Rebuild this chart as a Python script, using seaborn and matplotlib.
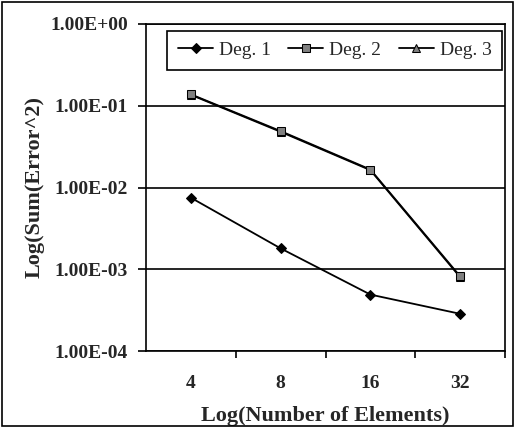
import matplotlib
matplotlib.use("Agg")
import matplotlib.pyplot as plt
import seaborn as sns
import pandas as pd
import numpy as np
from matplotlib.patches import Rectangle
from matplotlib.ticker import FixedLocator

categories = ["4", "8", "16", "32"]
deg1 = [7.5e-3, 1.8e-3, 4.9e-4, 2.85e-4]
deg2 = [0.138, 0.049, 0.0166, 8.2e-4]
deg3 = [0.136, 0.048, 0.0163, 8.0e-4]
series_names = ["Deg. 1", "Deg. 2", "Deg. 3"]
ytick_vals = [1e-4, 1e-3, 1e-2, 1e-1, 1e0]
ytick_labels = ["1.00E-04", "1.00E-03", "1.00E-02", "1.00E-01", "1.00E+00"]

sns.set_theme(style="white")
plt.rcParams["font.family"] = ["Liberation Serif", "DejaVu Serif"]

fig = plt.figure(figsize=(5.15, 4.28), dpi=100)
ax = fig.add_axes([146/515, 1-351/428, (505-146)/515, (351-24)/428])

df = pd.DataFrame({
    "n": categories * 3,
    "err": deg1 + deg2 + deg3,
    "series": [series_names[0]]*4 + [series_names[1]]*4 + [series_names[2]]*4,
})

styles = {
    "Deg. 1": dict(marker="D", markersize=5, markerfacecolor="black", markeredgecolor="black"),
    "Deg. 2": dict(marker="s", markersize=6, markerfacecolor="#808080", markeredgecolor="black"),
    "Deg. 3": dict(marker="^", markersize=6, markerfacecolor="#808080", markeredgecolor="black"),
}
for name in ["Deg. 3", "Deg. 1", "Deg. 2"]:
    sub = df[df["series"] == name]
    sns.lineplot(data=sub, x="n", y="err", ax=ax, color="black", linewidth=1.3,
                 sort=False, label=name, **styles[name])

ax.set_yscale("log")
ax.set_ylim(1e-4, 1e0)
ax.set_xlim(-0.5, 3.5)
ax.set_yticks(ytick_vals)
ax.set_yticklabels(ytick_labels, fontsize=14, fontweight="bold")
ax.yaxis.set_minor_locator(FixedLocator([]))
ax.set_xticks(range(len(categories)))
ax.set_xticklabels(categories, fontsize=14, fontweight="bold")
ax.set_xticks([0.5, 1.5, 2.5, 3.5], minor=True)
ax.tick_params(axis="x", which="major", length=0, pad=17, bottom=True)
ax.tick_params(axis="x", which="minor", length=5, width=1.2, direction="out",
               color="black", bottom=True)
ax.tick_params(axis="y", which="major", length=6, width=1.2, direction="out",
               color="black", pad=7, left=True)
ax.tick_params(axis="y", which="minor", length=0)

for y in ytick_vals:
    ax.axhline(y, color="black", linewidth=1.2, zorder=0)

for s in ax.spines.values():
    s.set_color("black")
    s.set_linewidth(1.2)
    s.set_visible(True)

ax.set_xlabel("Log(Number of Elements)", fontsize=16, fontweight="bold", labelpad=10)
ax.set_ylabel("Log(Sum(Error^2)", fontsize=16, fontweight="bold", labelpad=4)

h, l = ax.get_legend_handles_labels()
hd = dict(zip(l, h))
leg = ax.legend([hd[n] for n in series_names], series_names, ncol=3,
                loc="upper right", bbox_to_anchor=(0.992, 0.979), fontsize=14,
                frameon=True, fancybox=False, edgecolor="black", framealpha=1,
                handlelength=1.8, handletextpad=0.3, columnspacing=0.9,
                borderpad=0.55, borderaxespad=0)
leg.get_frame().set_linewidth(1.2)

fig.patches.append(Rectangle((2/515, 2/428), 511/515, 424/428, transform=fig.transFigure,
                             fill=False, edgecolor="black", linewidth=1.2))

fig.savefig("out.png", dpi=100)
